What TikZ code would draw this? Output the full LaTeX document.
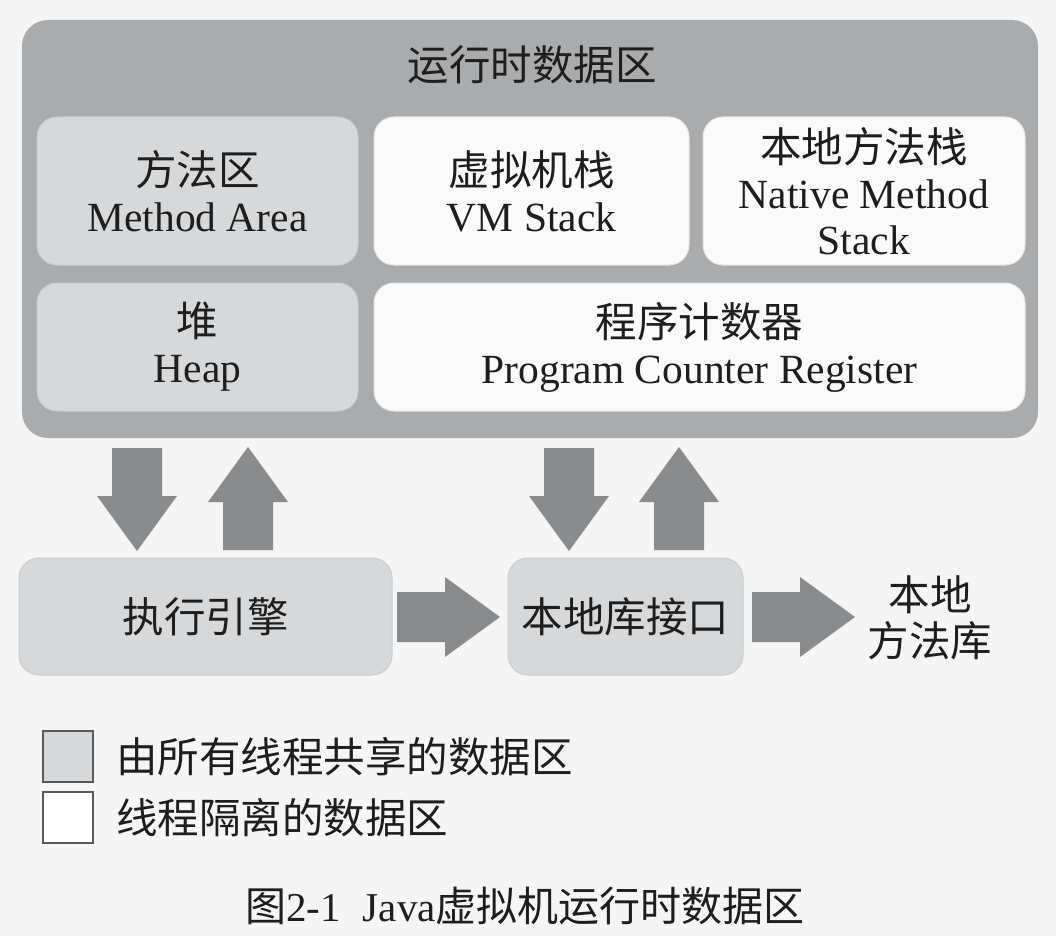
\documentclass[tikz,border=0pt]{standalone}
\usepackage{fontspec}
\setmainfont{Liberation Serif}
\newfontfamily\zh{Noto Sans CJK SC}
\definecolor{bgc}{HTML}{F5F5F5}
\definecolor{outerc}{HTML}{A9ABAC}
\definecolor{sharedc}{HTML}{D6D8D9}
\definecolor{sharedb}{HTML}{CACCCD}
\definecolor{privc}{HTML}{FAFAFA}
\definecolor{privb}{HTML}{E6E6E6}
\definecolor{arrowc}{HTML}{8A8B8C}
\definecolor{txtc}{HTML}{1E1E1E}
\begin{document}
\begin{tikzpicture}[x=1pt,y=-1pt,
  every node/.style={text=txtc, font=\fontsize{41.5}{46}\selectfont, align=center, inner sep=0pt},
  region/.style={rounded corners=20pt, line width=1pt},
  shared/.style={region, fill=sharedc, draw=sharedb},
  private/.style={region, fill=privc, draw=privb},
  blk/.pic={\fill[arrowc] (0,-25) -- (48,-25) -- (48,-40) -- (103,0) -- (48,40) -- (48,25) -- (0,25) -- cycle;}
]
\fill[bgc] (0,0) rectangle (1056,936);
\useasboundingbox (0,0) rectangle (1056,936);

% runtime data area
\node[fill=outerc, rounded corners=26pt, minimum width=1016pt, minimum height=418pt] (rda) at (530,229) {};
\node (rdatitle) at (532,65) {\zh 运行时数据区};

\node[shared, minimum width=321pt, minimum height=148pt] (ma) at (197.5,191)
  {{\zh 方法区}\\Method Area};
\node[private, minimum width=315pt, minimum height=148pt] (vms) at (531.5,191)
  {{\zh 虚拟机栈}\\VM Stack};
\node[private, minimum width=322pt, minimum height=148pt] (nms) at (864,191)
  {{\zh 本地方法栈}\\Native Method\\Stack};
\node[shared, minimum width=321pt, minimum height=128pt] (heap) at (197.5,347)
  {{\zh 堆}\\Heap};
\node[private, minimum width=651pt, minimum height=128pt] (pc) at (699.5,347)
  {{\zh 程序计数器}\\Program Counter Register};

% lower row
\node[shared, minimum width=373pt, minimum height=117pt] (ee) at (205.5,616.5) {\zh 执行引擎};
\node[shared, minimum width=235pt, minimum height=117pt] (nif) at (625.5,616.5) {\zh 本地库接口};
\node (nlib) at (930,618) {\zh 本地\\\zh 方法库};

% block arrows
\coordinate (a1) at (137,448);
\coordinate (a2) at (248,550);
\coordinate (a3) at (569,448);
\coordinate (a4) at (679,550);
\coordinate (a5) at (397,617);
\coordinate (a6) at (752,617);
\pic[rotate=-90] at (a1) {blk};
\pic[rotate=90] at (a2) {blk};
\pic[rotate=-90] at (a3) {blk};
\pic[rotate=90] at (a4) {blk};
\pic at (a5) {blk};
\pic at (a6) {blk};

% legend
\node[draw=black!65, line width=2pt, fill=sharedc, minimum width=50pt, minimum height=51pt] (lg1) at (68,756) {};
\node[draw=black!65, line width=2pt, fill=white, minimum width=50pt, minimum height=51pt] (lg2) at (68,817.5) {};
\node[anchor=west] (lt1) at (116,757) {\zh 由所有线程共享的数据区};
\node[anchor=west] (lt2) at (116,818) {\zh 线程隔离的数据区};

% caption
\node[font=\fontsize{41}{46}\selectfont] (cap) at (525,906) {{\zh 图}2-1\hspace{22pt}Java{\zh 虚拟机运行时数据区}};
\end{tikzpicture}
\end{document}
